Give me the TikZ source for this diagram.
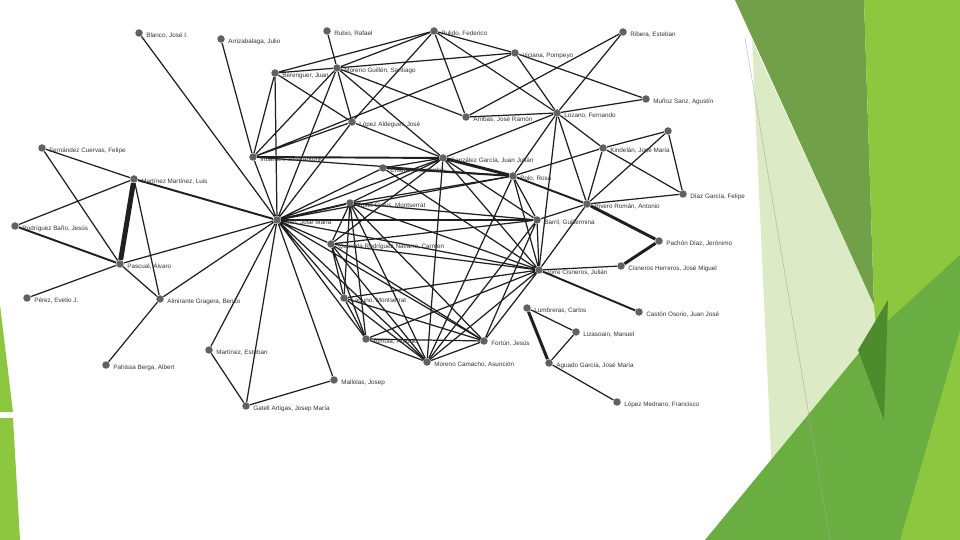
\documentclass[tikz,border=0pt]{standalone}
\usepackage{fontspec}
\setmainfont{Liberation Sans}
\usetikzlibrary{calc}
\usetikzlibrary{backgrounds}

\definecolor{leafpale}{HTML}{DCEBC6}
\definecolor{leafolive}{HTML}{72A048}
\definecolor{leafbright}{HTML}{8DC63F}
\definecolor{leafmid}{HTML}{6AAE41}
\definecolor{leafdark}{HTML}{4E8B2C}

\tikzset{
  dot/.style={circle,fill=black!62,inner sep=0pt,minimum size=0.15cm},
  lbl/.style={font=\fontsize{3.6}{4}\selectfont,text=black!80,inner sep=0.5pt,label distance=0.04cm,yshift=-0.05cm},
  lnk/.style={line width=0.7pt,draw=black!88},
  lnkb/.style={line width=1.1pt,draw=black!88},
  lnkh/.style={line width=1.7pt,draw=black!88},
  lnkx/.style={line width=2.8pt,draw=black!88}
}

\begin{document}
\begin{tikzpicture}[x=0.02cm,y=-0.02cm]
\useasboundingbox (0,0) rectangle (960,540);

\node (bla) at (139,33) [dot,label={[lbl]right:{Blanco, José I.}}] {};
\node (arr) at (221,39) [dot,label={[lbl]right:{Arrizabalaga, Julio}}] {};
\node (rub) at (327,31) [dot,label={[lbl]right:{Rubio, Rafael}}] {};
\node (pul) at (434,31) [dot,label={[lbl]right:{Pulido, Federico}}] {};
\node (vic) at (515,53) [dot,label={[lbl]right:{Viciana, Pompeyo}}] {};
\node (rib) at (623,32) [dot,label={[lbl]right:{Ribera, Esteban}}] {};
\node (mun) at (646,99) [dot,label={[lbl]right:{Muñoz Sanz, Agustín}}] {};
\node (loz) at (557,113) [dot,label={[lbl]right:{Lozano, Fernando}}] {};
\node (ber) at (275,73) [dot,label={[lbl]right:{Berenguer, Juan}}] {};
\node (mgu) at (337,68) [dot,label={[lbl]right:{Moreno Guillén, Santiago}}] {};
\node (lop) at (352,122) [dot,label={[lbl]right:{López Aldeguer, José}}] {};
\node (arb) at (466,117) [dot,label={[lbl]right:{Arribas, José Ramón}}] {};
\node (kin) at (603,148) [dot,label={[lbl]right:{Kindelán, José María}}] {};
\node (unk) at (668,131) [dot] {};
\node (dia) at (683,194) [dot,label={[lbl]right:{Díaz García, Felipe}}] {};
\node (fer) at (42,148) [dot,label={[lbl]right:{Fernández Cuervas, Felipe}}] {};
\node (mma) at (134,179) [dot,label={[lbl]right:{Martínez Martínez, Luis}}] {};
\node (iri) at (253,157) [dot,label={[lbl]right:{Iribarren, José Antonio}}] {};
\node (gon) at (443,158) [dot,label={[lbl]right:{González García, Juan Julián}}] {};
\node (cha) at (383,168) [dot,label={[lbl]right:{Chamorro, Lourdes}}] {};
\node (pol) at (513,176) [dot,label={[lbl]right:{Polo, Rosa}}] {};
\node (riv) at (587,204) [dot,label={[lbl]right:{Rivero Román, Antonio}}] {};
\node (tus) at (350,203) [dot,label={[lbl]right:{Tuset Creus, Montserrat}}] {};
\node (mir) at (277,220) [dot,label={[lbl]right:{Miró, José María}}] {};
\node (rod) at (15,226) [dot,label={[lbl]right:{Rodríguez Baño, Jesús}}] {};
\node (bar) at (537,220) [dot,label={[lbl]right:{Barril, Guillermina}}] {};
\node (pac) at (659,241) [dot,label={[lbl]right:{Pachón Díaz, Jerónimo}}] {};
\node (que) at (331,244) [dot,label={[lbl]right:{Quereda Rodríguez Navarro, Carmen}}] {};
\node (pas) at (120,264) [dot,label={[lbl]right:{Pascual, Álvaro}}] {};
\node (tor) at (539,270) [dot,label={[lbl]right:{Torre Cisneros, Julián}}] {};
\node (cih) at (621,266) [dot,label={[lbl]right:{Cisneros Herreros, José Miguel}}] {};
\node (per) at (27,298) [dot,label={[lbl]right:{Pérez, Evelio J.}}] {};
\node (alm) at (160,299) [dot,label={[lbl]right:{Almirante Gragera, Benito}}] {};
\node (lag) at (344,298) [dot,label={[lbl]right:{Laguno, Montserrat}}] {};
\node (lum) at (527,308) [dot,label={[lbl]right:{Lumbreras, Carlos}}] {};
\node (cas) at (639,312) [dot,label={[lbl]right:{Castón Osorio, Juan José}}] {};
\node (liz) at (576,332) [dot,label={[lbl]right:{Lizasoain, Manuel}}] {};
\node (rim) at (366,339) [dot,label={[lbl]right:{Rimola, Antonio}}] {};
\node (for) at (484,341) [dot,label={[lbl]right:{Fortún, Jesús}}] {};
\node (mes) at (209,350) [dot,label={[lbl]right:{Martínez, Esteban}}] {};
\node (mca) at (427,362) [dot,label={[lbl]right:{Moreno Camacho, Asunción}}] {};
\node (agu) at (549,363) [dot,label={[lbl]right:{Aguado García, José María}}] {};
\node (mal) at (334,380) [dot,label={[lbl]right:{Mallolas, Josep}}] {};
\node (pah) at (106,365) [dot,label={[lbl]right:{Pahissa Berga, Albert}}] {};
\node (gat) at (246,406) [dot,label={[lbl]right:{Gatell Artigas, Josep María}}] {};
\node (lme) at (617,402) [dot,label={[lbl]right:{López Medrano, Francisco}}] {};

\begin{scope}[on background layer]
\fill [leafpale] (752,40) -- (874,305) -- (880,330) -- (800,540) -- (775,540) -- cycle;
\fill [leafolive] (735,0) -- (864,0) -- (874,305) -- cycle;
\fill [leafbright] (864,0) -- (960,0) -- (960,540) -- (895,540) -- (874,305) -- cycle;
\fill [leafmid] (705,540) -- (878,330) -- (960,255) -- (960,330) -- (900,540) -- cycle;
\fill [leafdark] (858,350) -- (888,300) -- (884,420) -- cycle;
\fill [leafbright] (0,305) -- (13,412) -- (0,412) -- cycle;
\fill [leafbright] (0,418) -- (13,418) -- (20,540) -- (0,540) -- cycle;
\draw [black!35,line width=0.2pt] (745,38) -- (830,540);

\draw [lnk] (mir) -- (bla) (mir) -- (ber) (mir) -- (mgu) (mir) -- (iri) (mir) -- (pas)
  (mir) -- (alm) (mir) -- (mes) (mir) -- (gat) (mir) -- (mal) (mir) -- (cha)
  (mir) -- (gon) (mir) -- (pol) (mir) -- (tor) (mir) -- (que) (mir) -- (lag)
  (mir) -- (rim) (mir) -- (mca) (mir) -- (for) (mir) -- (lop);
\draw [lnkb] (mir) -- (mma) (mir) -- (tus);
\draw [lnkh] (mir) -- (bar);
\draw [lnk] (iri) -- (arr) (iri) -- (ber) (iri) -- (mgu) (iri) -- (lop) (iri) -- (pol)
  (iri) -- (vic);
\draw [lnkb] (iri) -- (gon);
\draw [lnk] (ber) -- (mgu) (ber) -- (lop) (ber) -- (pul);
\draw [lnk] (mgu) -- (rub) (mgu) -- (pul) (mgu) -- (vic) (mgu) -- (lop) (mgu) -- (arb)
  (mgu) -- (gon);
\draw [lnk] (pul) -- (lop) (pul) -- (arb) (pul) -- (vic) (pul) -- (loz);
\draw [lnk] (vic) -- (loz) (vic) -- (mun);
\draw [lnk] (rib) -- (arb) (rib) -- (loz);
\draw [lnk] (loz) -- (arb) (loz) -- (mun) (loz) -- (kin) (loz) -- (riv) (loz) -- (pol)
  (loz) -- (gon) (loz) -- (tor);
\draw [lnk] (kin) -- (pol) (kin) -- (unk) (kin) -- (dia) (kin) -- (riv);
\draw [lnk] (unk) -- (dia) (unk) -- (riv) (dia) -- (riv);
\draw [lnk] (riv) -- (tor) (riv) -- (bar);
\draw [lnkb] (riv) -- (pol);
\draw [lnkh] (riv) -- (pac) (pac) -- (cih);
\draw [lnk] (cih) -- (tor);
\draw [lnkb] (tor) -- (cas);
\draw [lnk] (tor) -- (bar) (tor) -- (pol) (tor) -- (gon) (tor) -- (tus) (tor) -- (que)
  (tor) -- (lag) (tor) -- (rim) (tor) -- (mca) (tor) -- (for) (tor) -- (cha);
\draw [lnk] (lum) -- (liz) (agu) -- (liz) (agu) -- (lme);
\draw [lnkh] (lum) -- (agu);
\draw [lnk] (mma) -- (fer) (mma) -- (rod) (mma) -- (alm) (fer) -- (pas);
\draw [lnkx] (mma) -- (pas);
\draw [lnkb] (rod) -- (pas);
\draw [lnk] (pas) -- (per) (pas) -- (alm) (alm) -- (pah);
\draw [lnk] (mes) -- (gat) (gat) -- (mal);
\draw [lnkh] (pol) -- (gon);
\draw [lnkb] (pol) -- (cha);
\draw [lnk] (pol) -- (bar) (pol) -- (mca) (pol) -- (tus);
\draw [lnk] (gon) -- (cha) (gon) -- (lop) (gon) -- (bar) (gon) -- (mca) (gon) -- (tus)
  (gon) -- (que);
\draw [lnk] (tus) -- (bar) (tus) -- (lag) (tus) -- (rim) (tus) -- (mca) (tus) -- (for)
  (tus) -- (que);
\draw [lnk] (que) -- (lag) (que) -- (rim) (que) -- (mca) (que) -- (for) (que) -- (bar);
\draw [lnk] (lag) -- (rim) (lag) -- (mca) (lag) -- (for);
\draw [lnk] (rim) -- (mca) (rim) -- (for);
\draw [lnk] (for) -- (mca) (for) -- (bar) (mca) -- (bar);
\end{scope}
\end{tikzpicture}
\end{document}
